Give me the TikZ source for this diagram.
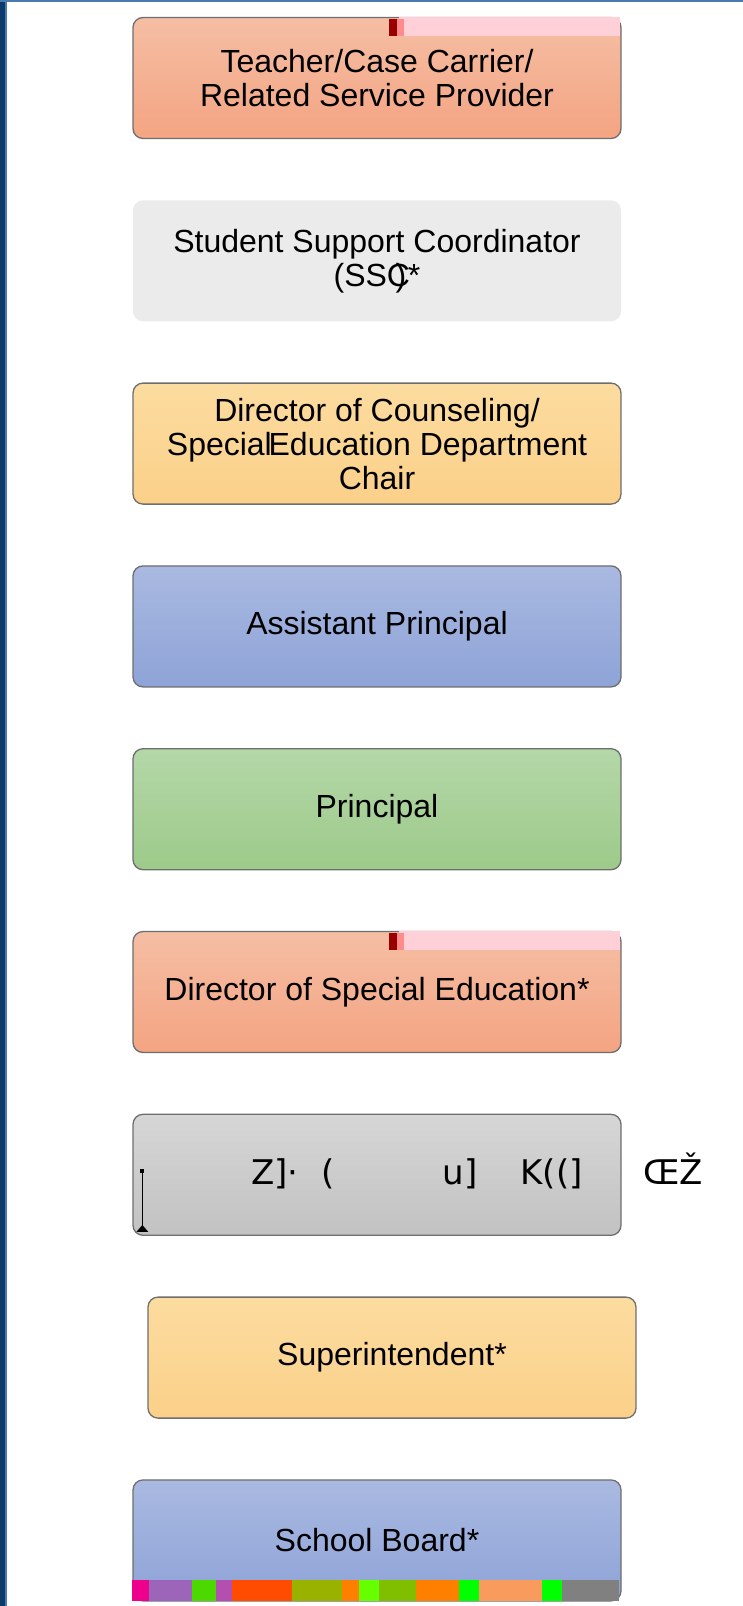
\documentclass[tikz,border=0pt]{standalone}
\usepackage{fontspec}
\setmainfont{Liberation Sans}
\newfontfamily\glitchfont{DejaVu Sans}
\usetikzlibrary{positioning}

\definecolor{salmontop}{HTML}{F5BEA4}
\definecolor{salmonbot}{HTML}{F4A482}
\definecolor{paleshade}{HTML}{EBEBEB}
\definecolor{sandtop}{HTML}{FCDCA0}
\definecolor{sandbot}{HTML}{FBD089}
\definecolor{skytop}{HTML}{A9B9E1}
\definecolor{skybot}{HTML}{8EA3D7}
\definecolor{leaftop}{HTML}{B4D7A8}
\definecolor{leafbot}{HTML}{9DCA8A}
\definecolor{ashtop}{HTML}{D6D6D6}
\definecolor{ashbot}{HTML}{C2C2C2}
\definecolor{rimline}{HTML}{6E6E6E}
\definecolor{navyrule}{HTML}{0B3A6B}
\definecolor{bluerule}{HTML}{4A7AB0}
\definecolor{pinkpatch}{HTML}{FFD0D8}

\tikzset{
    tier/.style={rectangle, rounded corners=10pt, draw=rimline, line width=1.3pt,
        minimum width=488pt, minimum height=121pt, align=center,
        font=\fontsize{32}{34}\selectfont},
    salmon/.style={tier, top color=salmontop, bottom color=salmonbot},
    pale/.style={tier, draw=none, fill=paleshade},
    sand/.style={tier, top color=sandtop, bottom color=sandbot},
    sky/.style={tier, top color=skytop, bottom color=skybot},
    leaf/.style={tier, top color=leaftop, bottom color=leafbot},
    ash/.style={tier, top color=ashtop, bottom color=ashbot},
    glitch/.style={inner sep=0pt, anchor=base west, font=\glitchfont\fontsize{34}{34}\selectfont},
}

\begin{document}
\begin{tikzpicture}[
    x=1pt,
    y=1pt,
    node distance=182.8pt,
    on grid,
]
    \useasboundingbox (0,0) rectangle (743,-1606);
    \fill[navyrule] (0,0) rectangle (5,-1606);
    \fill[bluerule] (5,0) rectangle (7,-1606);
    \fill[bluerule] (0,0) rectangle (743,-2);

    \node[salmon]                                  (g1) at (377,-78) {Teacher/Case Carrier/\\ Related Service Provider};
    \node[pale,   below=of g1]                     (g2) {Student Support Coordinator\\ (SSC\kern-0.45em)\kern0.05em*};
    \node[sand,   below=of g2]                     (g3) {Director of Counseling/\\ Special\kern-0.1emEducation Department\\ Chair};
    \node[sky,    below=of g3]                     (g4) {Assistant Principal};
    \node[leaf,   below=of g4]                     (g5) {Principal};
    \node[salmon, below=of g5]                     (g6) {Director of Special Education*};
    \node[ash,    below=of g6]                     (g7) {};
    \node[sand,   below=of g7, xshift=15pt]        (g8) {Superintendent*};
    \node[sky,    below=of g8, xshift=-15pt]       (g9) {School Board*};

    \foreach \tierbox in {g1, g6} {
        \fill[pinkpatch] ([xshift=267pt]\tierbox.north west) rectangle ([xshift=-2pt,yshift=-19pt]\tierbox.north east);
        \fill[red!60!black] ([xshift=257pt,yshift=-2pt]\tierbox.north west) rectangle ([xshift=265pt,yshift=-19pt]\tierbox.north west);
        \fill[red!45] ([xshift=265pt,yshift=-2pt]\tierbox.north west) rectangle ([xshift=272pt,yshift=-19pt]\tierbox.north west);
    }

    \foreach \dx/\ch [count=\i] in {119/{Z]}, 155/{·}, 189/{(}, 310/{u]}, 388/{K((]}, 511/{ŒŽ}} {
        \node[glitch] (w\i) at ([xshift=\dx pt, yshift=-10pt]g7.west) {\ch};
    }
    \coordinate (tickTop) at ([xshift=10pt, yshift=4pt]g7.west);
    \coordinate (tickBot) at ([xshift=10pt, yshift=4pt]g7.south west);
    \fill ([xshift=-2pt,yshift=2pt]tickTop) rectangle ([xshift=2pt,yshift=-2pt]tickTop);
    \draw[line width=1pt] (tickTop) -- (tickBot);
    \fill ([xshift=-6pt]tickBot) -- ([xshift=6pt]tickBot) -- ([yshift=7pt]tickBot) -- cycle;

    \foreach \xa/\xb/\col in {0/17/magenta, 17/60/magenta!60!cyan, 60/84/green!70!orange,
        84/100/magenta!70!cyan, 100/160/orange!60!red, 160/210/orange!60!green, 210/227/orange,
        227/247/green!60!yellow, 247/284/green!50!orange, 284/327/orange, 327/347/green,
        347/410/magenta!40!yellow, 410/430/green, 430/487/gray} {
        \fill[\col] ([xshift=\xa pt, yshift=-101pt]g9.north west) rectangle ([xshift=\xb pt, yshift=1pt]g9.south west);
    }
\end{tikzpicture}
\end{document}
